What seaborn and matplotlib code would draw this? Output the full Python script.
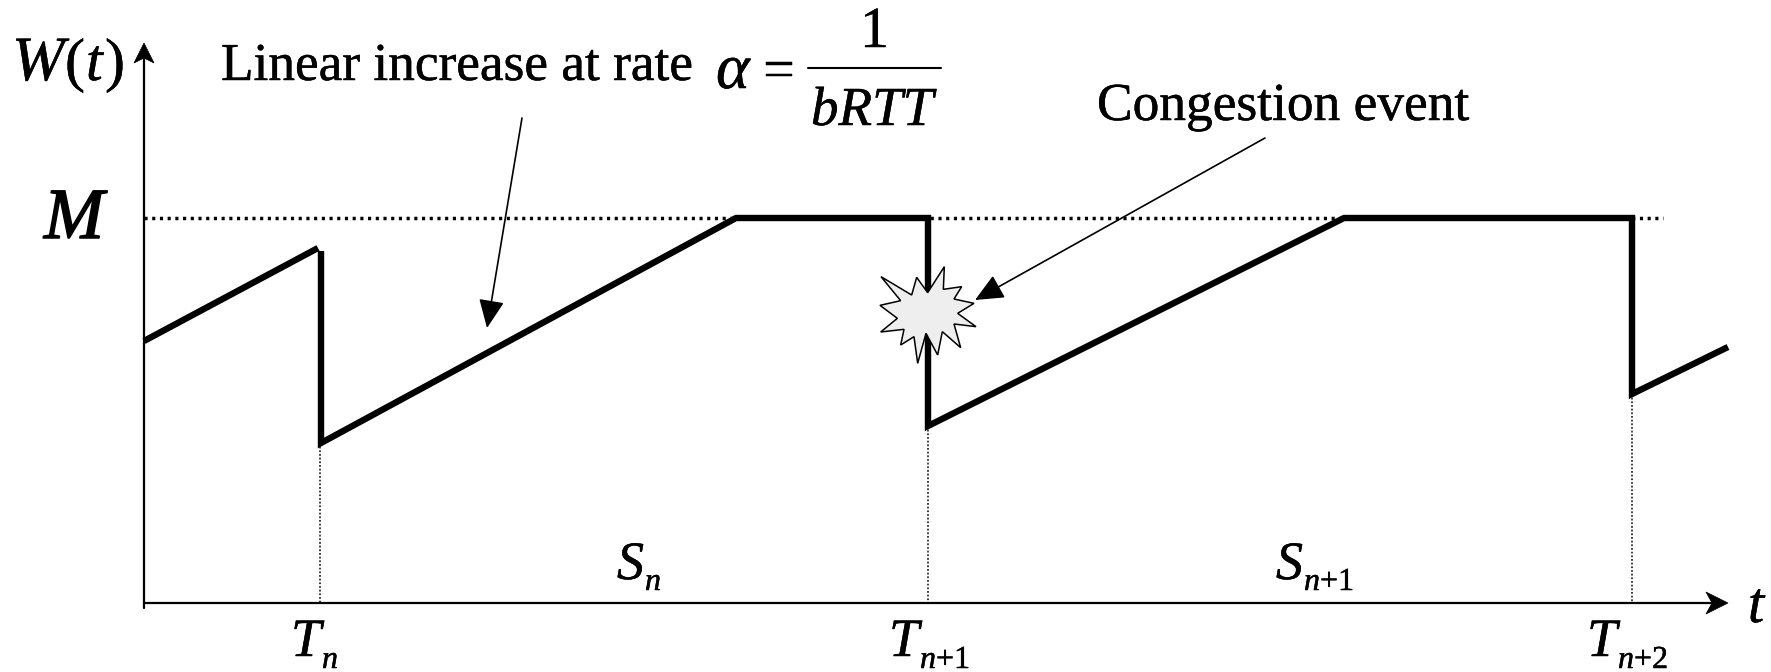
import matplotlib
matplotlib.use("Agg")
import matplotlib.pyplot as plt
import seaborn as sns
from matplotlib.patches import Polygon
import matplotlib.patheffects as pe

sns.set_theme(style="white")
plt.rcParams['font.family'] = ['Liberation Serif', 'DejaVu Sans']

W_IMG, H_IMG = 1771, 672
# window size curve
rise0_t = [144, 318]
rise0_w = [341, 248]
saw_t = [321, 321, 736, 928, 928, 1344, 1632, 1632, 1728]
saw_w = [251, 443, 218, 218, 426, 218, 218, 394, 347]
M_level = 218
M_t = [144, 1663]
event_t = [320, 928, 1632]
event_w = [443, 426, 394]
axis_base = 603
axis_left = 144
axis_top = 43
axis_right = 1728
star_x = [303,395,410,443,493,490,545,522,582,533,588,522,542,487,473,438,413,402,362,372,302,352,300,362]
star_y = [230,285,232,278,200,268,260,297,310,340,380,372,443,395,465,400,490,410,435,388,396,355,316,302]

fig = plt.figure(figsize=(W_IMG/100, H_IMG/100), dpi=100, facecolor='white')
ax = fig.add_axes([0, 0, 1, 1])
ax.set_xlim(0, W_IMG)
ax.set_ylim(H_IMG, 0)
ax.axis('off')

l = sns.lineplot(x=M_t, y=[M_level]*2, ax=ax, color='black', lw=2.5, estimator=None, sort=False, zorder=1).lines[-1]
l.set_linestyle((0, (0.9, 1.32)))
l.set_dash_capstyle('butt')
for t, w in zip(event_t, event_w):
    sns.lineplot(x=[t, t], y=[w, axis_base], ax=ax, color='#222222', lw=1.2, estimator=None, sort=False,
                 linestyle=(0, (1.1, 1.1)), zorder=1)
for xs, ys in [(rise0_t, rise0_w), (saw_t, saw_w)]:
    sns.lineplot(x=xs, y=ys, ax=ax, color='black', lw=4.6, estimator=None, sort=False,
                 solid_joinstyle='miter', solid_capstyle='butt', zorder=2)

star = Polygon([(780 + a/3, 200 + b/3) for a, b in zip(star_x, star_y)], closed=True,
               facecolor='#eeeeee', edgecolor='black', lw=1.1, zorder=3)
ax.add_patch(star)

def arrow(p0, p1, lw=1.2, ms=22):
    ax.annotate('', xy=p1, xytext=p0, zorder=4,
                arrowprops=dict(arrowstyle='-|>,head_length=0.8,head_width=0.36', color='black', lw=lw,
                                mutation_scale=ms, shrinkA=0, shrinkB=0))

ax.plot([axis_left, axis_left], [axis_base + 5, axis_top + 5], color='black', lw=1.6, zorder=3)
ax.plot([axis_left, axis_right - 5], [axis_base, axis_base], color='black', lw=1.6, zorder=3)
# stealth-style heads on the two axes
ax.add_patch(Polygon([(axis_left, axis_top), (axis_left + 10, axis_top + 20), (axis_left, axis_top + 15),
                      (axis_left - 10, axis_top + 20)], closed=True, fc='black', ec='black', lw=0.5, zorder=4))
ax.add_patch(Polygon([(axis_right, axis_base), (axis_right - 22, axis_base - 11), (axis_right - 16, axis_base),
                      (axis_right - 22, axis_base + 11)], closed=True, fc='black', ec='black', lw=0.5, zorder=4))
arrow((522, 118), (487, 328))
arrow((1265, 138), (975, 300))

def T(x, y, s, px, style='normal', weight='normal', stroke=0.35):
    ax.text(x, y, s, fontsize=px*0.72, style=style, weight=weight, va='baseline', ha='left', color='black',
            path_effects=[pe.withStroke(linewidth=stroke, foreground='black')])

T(12, 80, 'W', 63, 'italic')
T(65, 80, '(', 60)
T(86, 80, 't', 60, 'italic')
T(105, 80, ')', 60)
T(44, 238, 'M', 72, 'italic', stroke=1.1)
T(221, 80, 'Linear increase at rate', 53.3)
T(716, 88, 'α', 64, 'italic')
T(763, 88, '=', 56)
T(860, 47, '1', 58)
ax.plot([808, 941], [68, 68], color='black', lw=1.5)
T(811, 125, 'bRTT', 55, 'italic')
T(1097, 120, 'Congestion event', 53.4)
T(617, 579, 'S', 54, 'italic')
T(645, 590, 'n', 32, 'italic')
T(1276, 579, 'S', 54, 'italic')
T(1304, 590, 'n', 32, 'italic')
T(1320, 590, '+1', 32)
T(291, 656, 'T', 54, 'italic')
T(322, 668, 'n', 32, 'italic')
T(889, 656, 'T', 54, 'italic')
T(920, 668, 'n', 32, 'italic')
T(936, 668, '+1', 32)
T(1587, 656, 'T', 54, 'italic')
T(1618, 668, 'n', 32, 'italic')
T(1634, 668, '+2', 32)
T(1748, 622, 't', 58, 'italic')

fig.savefig('out.png', dpi=100, facecolor='white')
